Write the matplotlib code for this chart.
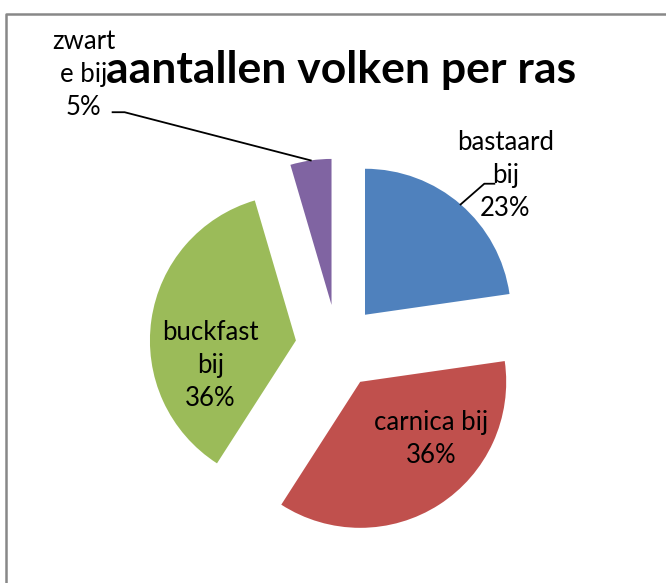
import matplotlib
matplotlib.use("Agg")
import matplotlib.pyplot as plt
import numpy as np

# data
races = ["bastaard\nbij", "carnica bij", "buckfast\nbij", "zwart\ne bij"]
colonies = [5, 8, 8, 1]
colors = ["#4F81BD", "#C0504D", "#9BBB59", "#8064A2"]
title = "aantallen volken per ras"

plt.rcParams["font.family"] = ["Lato", "DejaVu Sans"]

W, H = 666, 583
fig = plt.figure(figsize=(W / 100, H / 100), dpi=100)
ax = fig.add_axes([0, 0, 1, 1])

R = 146
CX, CY = 337.5, H - 346.5
EXPL = 42

wedges, _ = ax.pie(colonies, explode=[EXPL] * len(colonies), startangle=90,
                   counterclock=False, colors=colors, radius=R, center=(CX, CY))
ax.set_xlim(0, W)
ax.set_ylim(0, H)
ax.axis("off")

# label placement (distance in radii, angle in degrees from pie centre)
label_pos = [(1.64, 45.5), (0.90, -44.6), (0.88, 188.5), (2.55, 133.0)]
# leader lines: (dx to end of horizontal piece, dy, dx of elbow) relative to label
leaders = {0: (-11, -8, -21), 3: (29, -38, 41)}

total = sum(colonies)
for i, (w, race, v) in enumerate(zip(wedges, races, colonies)):
    pct = round(100 * v / total)
    dist, ang = label_pos[i]
    lx = CX + dist * R * np.cos(np.radians(ang))
    ly = CY + dist * R * np.sin(np.radians(ang))
    ax.text(lx, ly, f"{race}\n{pct}%", ha="center", va="center",
            fontsize=18.5, linespacing=1.4, color="black")
    if i in leaders:
        ex, ey, bx = leaders[i]
        tm = np.radians((w.theta1 + w.theta2) / 2)
        sx = w.center[0] + w.r * np.cos(tm)
        sy = w.center[1] + w.r * np.sin(tm)
        ax.plot([sx, lx + bx, lx + ex], [sy, ly + ey, ly + ey],
                color="black", lw=1.3)

ax.text(341, H - 70, title, ha="center", va="center",
        fontsize=32, fontweight="bold")

# chart frame (cropped at right and bottom)
ax.plot([6, 6, W + 5], [-5, H - 14, H - 14], color="#888888", lw=1.8,
        clip_on=False)

fig.savefig("out.png", dpi=100)
